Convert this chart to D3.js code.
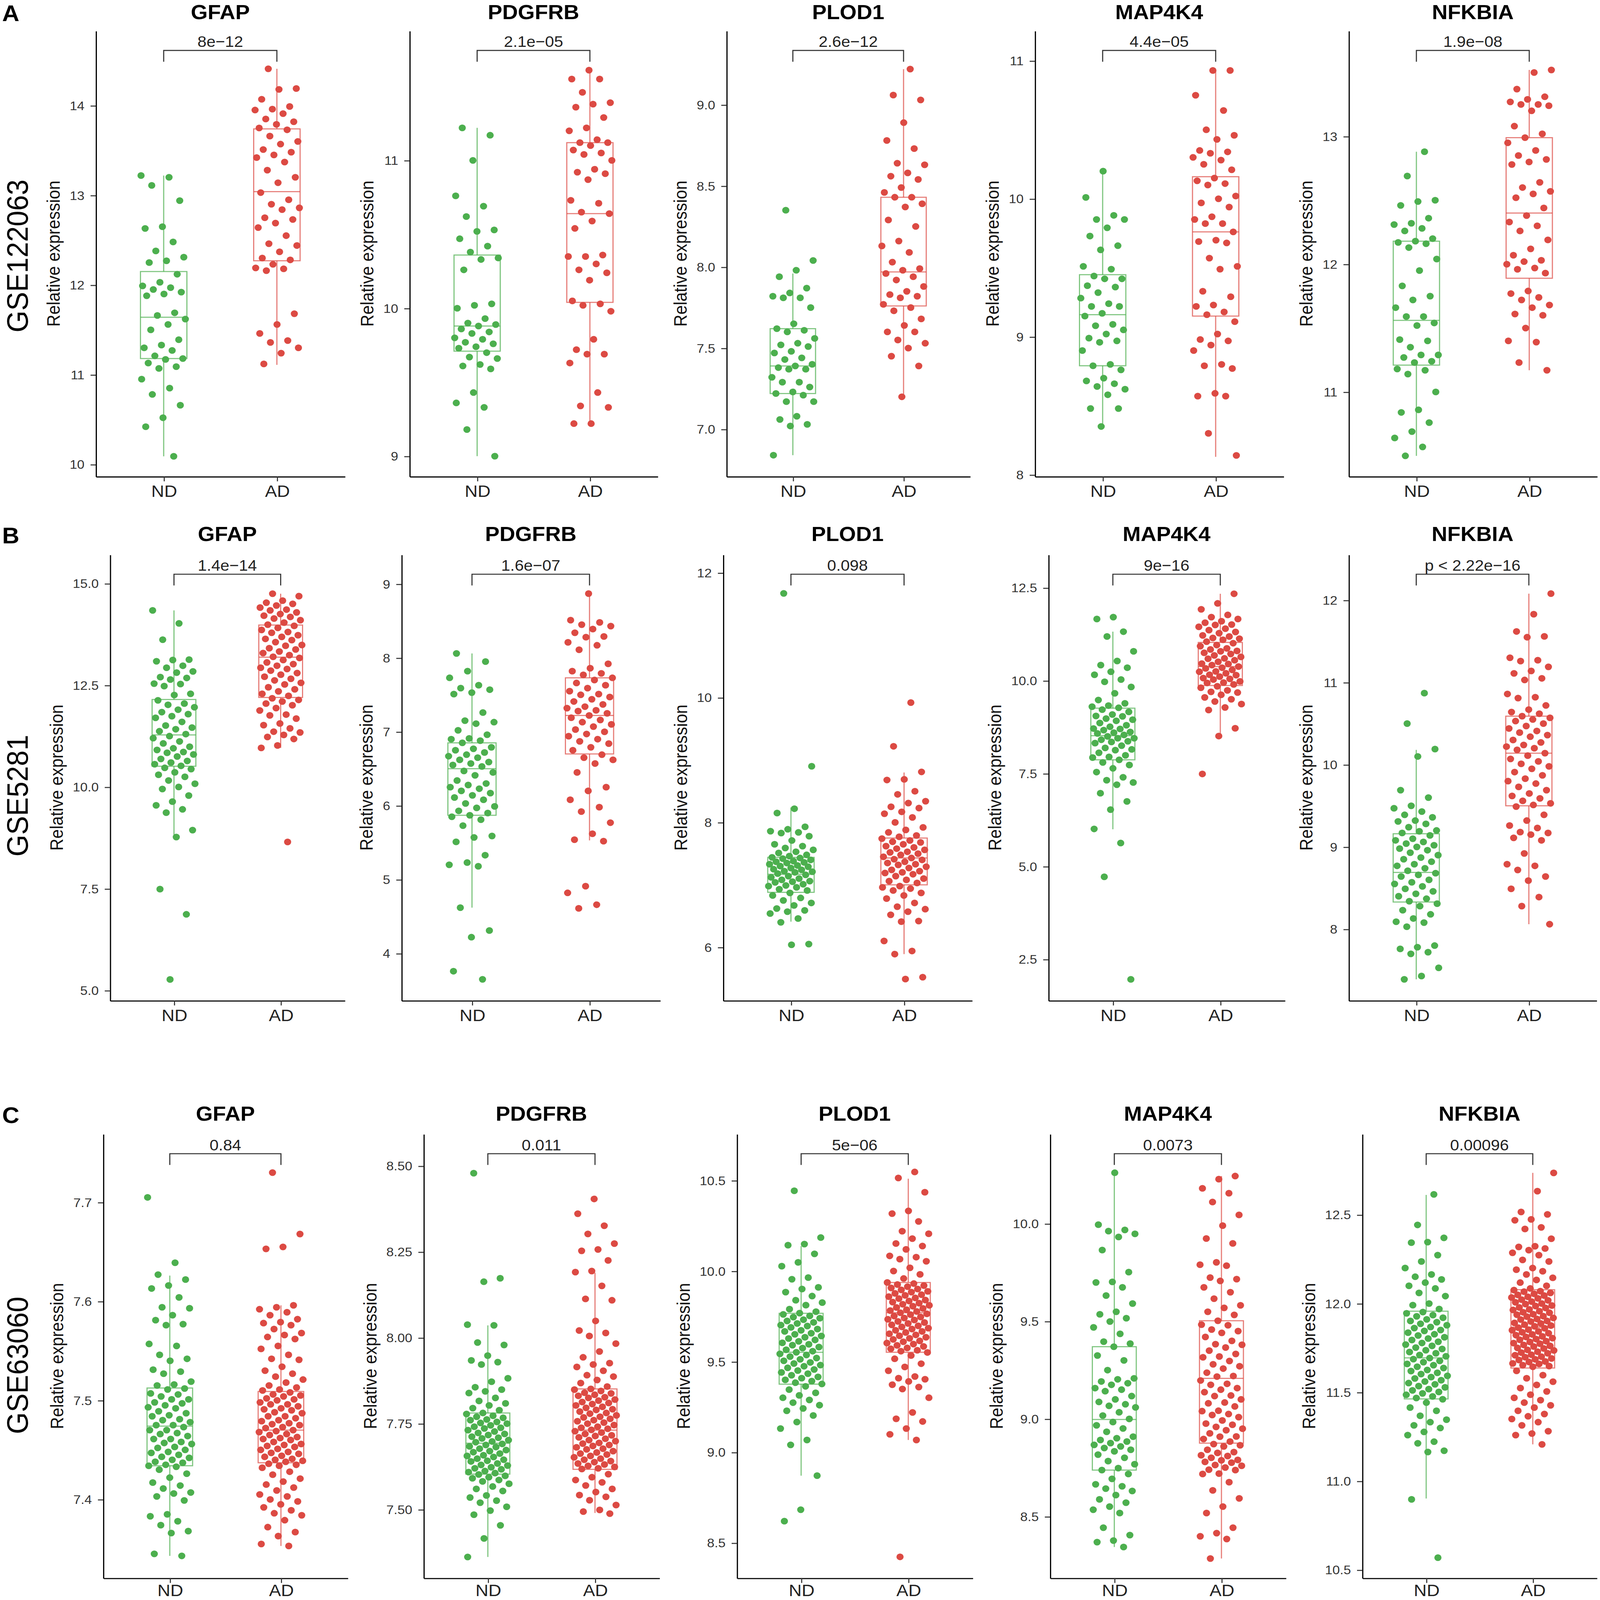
<!DOCTYPE html>
<html>
<head>
<meta charset="utf-8">
<script src="https://cdn.jsdelivr.net/npm/d3@7"></script>
<style>
  html, body { margin: 0; padding: 0; background: #fff; overflow: hidden; }
  svg { display: block; }
</style>
</head>
<body>
<svg id="chart"></svg>
<script>
// ---- data ----
const genes = ["GFAP", "PDGFRB", "PLOD1", "MAP4K4", "NFKBIA"];
const datasets = ["GSE122063", "GSE5281", "GSE63060"];
const panelLetters = ["A", "B", "C"];
const groups = ["ND", "AD"];

const pLabels = [
  ["8e\u221212", "2.1e\u221205", "2.6e\u221212", "4.4e\u221205", "1.9e\u221208"],
  ["1.4e\u221214", "1.6e\u221207", "0.098", "9e\u221216", "p < 2.22e\u221216"],
  ["0.84", "0.011", "5e\u221206", "0.0073", "0.00096"]
];

// y tick labels per row, per gene
const yTicksA = [["10","11","12","13","14"], ["9","10","11"], ["7.0","7.5","8.0","8.5","9.0"], ["8","9","10","11"], ["11","12","13"]];
const yTicksB = [["5.0","7.5","10.0","12.5","15.0"], ["4","5","6","7","8","9"], ["6","8","10","12"], ["2.5","5.0","7.5","10.0","12.5"], ["8","9","10","11","12"]];
const yTicksC = [["7.4","7.5","7.6","7.7"], ["7.50","7.75","8.00","8.25","8.50"], ["8.5","9.0","9.5","10.0","10.5"], ["8.5","9.0","9.5","10.0"], ["10.5","11.0","11.5","12.0","12.5"]];

// box stats [lower whisker, q1, median, q3, upper whisker] as [ND, AD]
const boxA = [
  [[10.09, 11.18, 11.64, 12.15, 13.22], [11.11, 12.27, 13.04, 13.74, 14.41]],
  [[9.00, 9.71, 9.88, 10.36, 11.22], [9.22, 10.04, 10.64, 11.12, 11.61]],
  [[6.84, 7.22, 7.39, 7.62, 7.96], [7.20, 7.76, 7.97, 8.43, 9.22]],
  [[8.35, 8.79, 9.16, 9.45, 10.19], [8.13, 9.15, 9.76, 10.16, 10.93]],
  [[10.50, 11.21, 11.56, 12.18, 12.88], [11.17, 11.89, 12.40, 12.99, 13.52]]
];
const boxB = [
  [[8.81, 10.51, 11.28, 12.15, 14.34], [10.96, 12.20, 13.19, 13.98, 14.75]],
  [[4.62, 5.87, 6.50, 6.85, 8.06], [5.53, 6.70, 7.22, 7.73, 8.87]],
  [[6.41, 6.88, 7.17, 7.44, 8.24], [5.89, 7.00, 7.43, 7.75, 8.80]],
  [[6.00, 7.87, 8.52, 9.26, 11.32], [8.51, 9.87, 10.38, 11.03, 12.34]],
  [[7.39, 8.33, 8.69, 9.16, 10.18], [8.06, 9.50, 10.14, 10.59, 12.08]]
];
const boxC = [
  [[7.343, 7.434, 7.474, 7.5125, 7.626], [7.353, 7.437, 7.470, 7.509, 7.596]],
  [[7.362, 7.603, 7.693, 7.781, 8.036], [7.490, 7.617, 7.731, 7.851, 8.189]],
  [[8.871, 9.376, 9.552, 9.767, 10.138], [9.068, 9.552, 9.77, 9.937, 10.51]],
  [[8.344, 8.738, 8.997, 9.370, 10.261], [8.285, 8.876, 9.208, 9.503, 10.244]],
  [[10.902, 11.463, 11.694, 11.957, 12.612], [11.207, 11.637, 11.867, 12.078, 12.736]]
];

// per-sample relative expression (GSE122063)
const a_GFAP_ND = [13.22,13.20,13.11,12.94,12.65,12.63,12.48,12.38,12.31,12.27,12.25,12.12,12.03,11.99,11.97,11.95,11.92,11.90,11.88,11.69,11.66,11.62,11.56,11.50,11.39,11.33,11.30,11.27,11.21,11.18,11.17,11.13,11.09,11.07,10.95,10.85,10.78,10.66,10.52,10.42,10.09];
const a_GFAP_AD = [14.41,14.19,14.18,14.07,13.99,13.96,13.95,13.91,13.85,13.82,13.79,13.75,13.73,13.66,13.60,13.57,13.51,13.48,13.45,13.42,13.37,13.28,13.20,13.14,13.03,12.95,12.90,12.86,12.84,12.75,12.73,12.69,12.64,12.55,12.46,12.44,12.37,12.30,12.28,12.23,12.19,12.18,12.16,11.68,11.56,11.46,11.38,11.36,11.30,11.24,11.12];
const a_PDGFRB_ND = [11.22,11.17,11.00,10.76,10.69,10.62,10.53,10.52,10.47,10.42,10.38,10.34,10.33,10.26,10.03,10.02,10.00,9.93,9.90,9.89,9.88,9.86,9.84,9.83,9.80,9.79,9.77,9.76,9.74,9.73,9.70,9.67,9.66,9.62,9.61,9.59,9.43,9.36,9.33,9.18,9.00];
const a_PDGFRB_AD = [11.61,11.55,11.55,11.46,11.39,11.38,11.36,11.29,11.22,11.20,11.14,11.12,11.12,11.10,11.07,11.05,11.04,11.00,10.94,10.92,10.91,10.87,10.73,10.71,10.65,10.64,10.59,10.54,10.36,10.35,10.35,10.30,10.26,10.24,10.19,10.05,10.03,10.02,9.98,9.79,9.72,9.69,9.69,9.63,9.43,9.34,9.33,9.22,9.22];
const a_PLOD1_ND = [8.35,8.04,7.98,7.94,7.87,7.84,7.82,7.81,7.81,7.75,7.65,7.62,7.61,7.60,7.56,7.53,7.52,7.51,7.48,7.47,7.44,7.43,7.40,7.39,7.38,7.37,7.37,7.32,7.29,7.29,7.26,7.23,7.22,7.21,7.17,7.17,7.08,7.06,7.03,7.02,6.84];
const a_PLOD1_AD = [9.22,9.06,9.03,8.89,8.78,8.73,8.64,8.63,8.58,8.56,8.54,8.49,8.46,8.43,8.43,8.39,8.37,8.29,8.25,8.16,8.13,8.09,8.03,7.99,7.98,7.96,7.94,7.92,7.88,7.85,7.83,7.82,7.81,7.77,7.75,7.73,7.68,7.64,7.60,7.60,7.55,7.53,7.50,7.45,7.39,7.20];
const a_MAP4K4_ND = [10.20,10.01,9.88,9.85,9.85,9.79,9.73,9.66,9.63,9.51,9.49,9.44,9.42,9.42,9.37,9.36,9.32,9.28,9.24,9.22,9.22,9.17,9.15,9.09,9.08,9.05,9.02,8.99,8.97,8.96,8.90,8.80,8.79,8.76,8.70,8.68,8.66,8.64,8.62,8.58,8.48,8.48,8.35];
const a_MAP4K4_AD = [10.93,10.93,10.75,10.64,10.50,10.46,10.43,10.35,10.34,10.33,10.30,10.28,10.25,10.21,10.15,10.13,10.11,10.10,10.02,10.00,9.97,9.94,9.87,9.85,9.82,9.82,9.76,9.70,9.69,9.68,9.57,9.51,9.49,9.33,9.29,9.23,9.22,9.18,9.16,9.11,9.02,8.98,8.97,8.94,8.90,8.80,8.79,8.77,8.59,8.57,8.57,8.30,8.14];
const a_NFKBIA_ND = [12.88,12.69,12.50,12.49,12.46,12.36,12.32,12.31,12.28,12.26,12.20,12.18,12.17,12.16,12.13,12.04,11.95,11.83,11.75,11.72,11.66,11.59,11.59,11.54,11.52,11.41,11.40,11.35,11.29,11.29,11.27,11.24,11.23,11.18,11.17,11.14,11.00,10.86,10.84,10.76,10.69,10.64,10.57,10.50];
const a_NFKBIA_AD = [13.52,13.50,13.37,13.31,13.29,13.27,13.25,13.25,13.24,13.20,13.08,13.02,12.99,12.95,12.89,12.85,12.82,12.80,12.78,12.64,12.60,12.57,12.55,12.52,12.44,12.38,12.33,12.30,12.26,12.19,12.12,12.07,12.03,12.02,12.00,11.97,11.96,11.93,11.79,11.77,11.74,11.72,11.68,11.66,11.61,11.60,11.50,11.40,11.39,11.23,11.17];

// GSE5281
const b_GFAP_ND = [14.34,14.02,13.62,13.13,13.12,13.09,12.98,12.93,12.84,12.81,12.70,12.68,12.64,12.54,12.53,12.48,12.29,12.26,12.13,12.05,12.02,11.96,11.90,11.84,11.79,11.74,11.70,11.60,11.51,11.46,11.42,11.37,11.30,11.25,11.20,11.12,11.07,10.99,10.95,10.91,10.86,10.84,10.80,10.75,10.69,10.64,10.60,10.56,10.52,10.47,10.44,10.36,10.30,10.25,10.16,10.08,10.00,9.95,9.79,9.64,9.55,9.45,9.37,8.94,8.77,7.49,6.87,5.27];
const b_GFAP_AD = [14.75,14.69,14.58,14.53,14.50,14.46,14.41,14.36,14.34,14.29,14.25,14.21,14.18,14.14,14.10,14.04,13.99,13.96,13.91,13.86,13.81,13.79,13.73,13.69,13.64,13.61,13.56,13.49,13.47,13.41,13.38,13.33,13.29,13.24,13.20,13.17,13.12,13.06,13.02,12.98,12.93,12.90,12.86,12.80,12.76,12.71,12.66,12.62,12.56,12.52,12.45,12.40,12.35,12.29,12.24,12.18,12.14,12.10,12.05,12.01,11.94,11.88,11.78,11.76,11.68,11.56,11.52,11.44,11.36,11.34,11.28,11.23,11.18,11.02,10.96,8.65];
const b_PDGFRB_ND = [8.06,7.95,7.82,7.73,7.63,7.59,7.57,7.53,7.51,7.26,7.15,7.13,7.11,7.02,6.96,6.91,6.90,6.88,6.85,6.79,6.77,6.75,6.72,6.69,6.67,6.65,6.62,6.59,6.57,6.55,6.53,6.47,6.45,6.41,6.34,6.30,6.28,6.25,6.23,6.20,6.17,6.14,6.11,6.08,6.03,5.99,5.97,5.93,5.90,5.87,5.85,5.81,5.73,5.59,5.57,5.51,5.33,5.23,5.20,5.18,4.62,4.31,4.22,3.76,3.65];
const b_PDGFRB_AD = [8.87,8.51,8.48,8.45,8.43,8.39,8.34,8.29,8.28,8.21,8.17,8.11,7.92,7.86,7.82,7.79,7.77,7.73,7.70,7.66,7.63,7.59,7.55,7.51,7.50,7.47,7.44,7.41,7.37,7.34,7.32,7.29,7.28,7.25,7.22,7.19,7.16,7.13,7.10,7.07,7.03,7.00,6.97,6.94,6.90,6.87,6.84,6.79,6.75,6.69,6.65,6.62,6.57,6.45,6.25,6.20,6.08,5.98,5.92,5.77,5.62,5.54,5.52,4.91,4.82,4.66,4.61];
const b_PLOD1_ND = [11.67,8.90,8.22,8.15,7.93,7.89,7.86,7.84,7.83,7.78,7.71,7.65,7.62,7.59,7.56,7.53,7.51,7.48,7.46,7.44,7.43,7.42,7.40,7.38,7.37,7.36,7.35,7.33,7.31,7.30,7.29,7.27,7.25,7.24,7.22,7.21,7.20,7.18,7.16,7.14,7.12,7.10,7.08,7.06,7.05,7.04,7.01,6.99,6.98,6.96,6.93,6.91,6.87,6.83,6.79,6.75,6.71,6.67,6.62,6.59,6.57,6.54,6.46,6.40,6.05,6.04];
const b_PLOD1_AD = [9.92,9.22,8.81,8.69,8.68,8.50,8.45,8.34,8.31,8.25,8.23,8.17,8.14,8.08,8.00,7.92,7.88,7.84,7.79,7.77,7.74,7.71,7.69,7.68,7.65,7.62,7.60,7.58,7.56,7.53,7.52,7.50,7.48,7.45,7.43,7.41,7.40,7.37,7.35,7.33,7.32,7.29,7.27,7.24,7.22,7.20,7.19,7.17,7.14,7.10,7.08,7.06,7.03,6.98,6.96,6.94,6.91,6.87,6.83,6.78,6.71,6.65,6.61,6.57,6.52,6.42,6.41,6.10,5.94,5.89,5.52,5.49];
const b_MAP4K4_ND = [11.71,11.66,11.32,11.19,10.79,10.53,10.42,10.35,10.24,10.16,10.03,9.97,9.83,9.66,9.48,9.39,9.33,9.30,9.27,9.22,9.16,9.09,9.05,9.04,8.98,8.95,8.92,8.86,8.80,8.76,8.71,8.70,8.67,8.62,8.60,8.58,8.54,8.50,8.45,8.45,8.41,8.37,8.35,8.32,8.25,8.19,8.15,8.13,8.06,7.99,7.95,7.93,7.87,7.80,7.73,7.64,7.54,7.40,7.32,7.26,7.20,6.97,6.75,6.53,6.01,5.63,4.72,1.96];
const b_MAP4K4_AD = [12.34,12.08,11.92,11.77,11.71,11.66,11.60,11.56,11.51,11.50,11.45,11.40,11.36,11.31,11.28,11.22,11.19,11.15,11.13,11.10,11.05,11.01,10.96,10.93,10.87,10.84,10.80,10.79,10.75,10.72,10.68,10.64,10.60,10.59,10.55,10.51,10.46,10.45,10.42,10.38,10.35,10.33,10.29,10.25,10.24,10.20,10.16,10.15,10.11,10.07,10.05,10.03,9.98,9.95,9.94,9.90,9.85,9.81,9.74,9.70,9.68,9.62,9.55,9.50,9.44,9.37,9.28,9.21,8.72,8.51,7.49];
const b_NFKBIA_ND = [10.87,10.50,10.19,10.10,9.69,9.60,9.50,9.47,9.43,9.39,9.36,9.32,9.31,9.28,9.24,9.20,9.19,9.17,9.14,9.10,9.08,9.06,9.04,9.02,9.00,8.98,8.96,8.93,8.90,8.87,8.85,8.82,8.79,8.77,8.74,8.71,8.68,8.66,8.64,8.60,8.57,8.55,8.52,8.49,8.46,8.43,8.40,8.37,8.34,8.31,8.28,8.23,8.18,8.13,8.09,8.08,8.03,7.80,7.78,7.76,7.72,7.70,7.53,7.43,7.39];
const b_NFKBIA_AD = [12.08,11.83,11.62,11.56,11.55,11.30,11.27,11.26,11.19,11.14,11.11,11.05,11.03,10.86,10.82,10.81,10.72,10.67,10.64,10.62,10.59,10.57,10.55,10.53,10.50,10.47,10.44,10.41,10.39,10.36,10.34,10.30,10.27,10.24,10.22,10.20,10.18,10.14,10.11,10.07,10.04,10.01,9.98,9.95,9.91,9.87,9.83,9.80,9.77,9.73,9.69,9.65,9.62,9.59,9.56,9.53,9.51,9.49,9.39,9.32,9.26,9.23,9.18,9.17,9.15,9.11,9.08,8.92,8.79,8.77,8.72,8.64,8.59,8.49,8.39,8.28,8.06];

// GSE63060
const c_GFAP_ND = [7.705,7.639,7.627,7.622,7.616,7.613,7.604,7.594,7.593,7.586,7.581,7.577,7.576,7.557,7.555,7.546,7.542,7.540,7.531,7.529,7.527,7.519,7.516,7.515,7.512,7.511,7.507,7.506,7.504,7.501,7.501,7.498,7.497,7.495,7.493,7.492,7.489,7.487,7.485,7.484,7.481,7.480,7.478,7.475,7.475,7.473,7.470,7.470,7.467,7.466,7.464,7.461,7.461,7.458,7.457,7.456,7.453,7.452,7.450,7.448,7.447,7.445,7.443,7.442,7.440,7.438,7.437,7.435,7.434,7.433,7.430,7.426,7.422,7.417,7.414,7.411,7.407,7.406,7.403,7.399,7.385,7.383,7.378,7.374,7.368,7.366,7.345,7.343];
const c_GFAP_AD = [7.730,7.668,7.655,7.653,7.596,7.594,7.592,7.589,7.586,7.582,7.579,7.578,7.576,7.572,7.568,7.566,7.564,7.562,7.555,7.552,7.546,7.542,7.541,7.534,7.530,7.527,7.524,7.521,7.518,7.515,7.513,7.511,7.510,7.508,7.506,7.505,7.504,7.502,7.501,7.500,7.498,7.496,7.496,7.494,7.492,7.491,7.490,7.488,7.487,7.484,7.484,7.482,7.480,7.479,7.477,7.476,7.475,7.473,7.472,7.470,7.469,7.468,7.466,7.465,7.463,7.462,7.461,7.460,7.458,7.456,7.455,7.454,7.453,7.451,7.450,7.448,7.447,7.446,7.444,7.443,7.441,7.440,7.439,7.438,7.436,7.435,7.434,7.432,7.428,7.425,7.421,7.418,7.415,7.412,7.409,7.405,7.403,7.400,7.398,7.395,7.392,7.389,7.386,7.384,7.379,7.372,7.367,7.363,7.355,7.353];
const c_PDGFRB_ND = [8.479,8.173,8.163,8.038,8.036,7.986,7.979,7.948,7.934,7.929,7.922,7.882,7.872,7.856,7.849,7.844,7.839,7.825,7.816,7.809,7.803,7.795,7.789,7.781,7.778,7.773,7.770,7.767,7.762,7.760,7.755,7.752,7.750,7.745,7.741,7.738,7.736,7.731,7.727,7.723,7.720,7.717,7.712,7.709,7.707,7.702,7.698,7.696,7.691,7.688,7.684,7.682,7.677,7.673,7.670,7.667,7.663,7.658,7.656,7.653,7.648,7.645,7.642,7.640,7.634,7.630,7.628,7.623,7.620,7.617,7.612,7.609,7.606,7.602,7.598,7.594,7.591,7.586,7.582,7.575,7.567,7.560,7.554,7.541,7.535,7.526,7.520,7.508,7.497,7.485,7.454,7.416,7.362];
const c_PDGFRB_AD = [8.404,8.361,8.326,8.302,8.274,8.257,8.253,8.225,8.194,8.191,8.151,8.113,8.109,8.049,8.021,8.014,8.005,7.983,7.960,7.943,7.926,7.922,7.915,7.904,7.891,7.887,7.877,7.868,7.858,7.851,7.849,7.845,7.840,7.838,7.834,7.831,7.827,7.825,7.820,7.817,7.813,7.810,7.807,7.803,7.799,7.796,7.792,7.790,7.785,7.781,7.779,7.774,7.770,7.768,7.764,7.760,7.757,7.753,7.750,7.746,7.741,7.738,7.735,7.732,7.728,7.724,7.720,7.716,7.714,7.710,7.706,7.702,7.699,7.694,7.692,7.688,7.685,7.681,7.677,7.675,7.670,7.666,7.663,7.660,7.656,7.652,7.648,7.645,7.641,7.638,7.634,7.631,7.627,7.624,7.620,7.618,7.603,7.594,7.586,7.579,7.570,7.560,7.551,7.542,7.537,7.527,7.513,7.499,7.494,7.488];
const c_PLOD1_ND = [10.443,10.185,10.149,10.143,10.095,10.048,10.027,9.964,9.955,9.910,9.901,9.884,9.862,9.839,9.826,9.812,9.790,9.776,9.768,9.761,9.753,9.746,9.740,9.732,9.725,9.717,9.711,9.702,9.697,9.689,9.680,9.673,9.667,9.657,9.651,9.642,9.635,9.628,9.620,9.612,9.604,9.596,9.591,9.581,9.575,9.566,9.558,9.552,9.543,9.537,9.528,9.520,9.513,9.505,9.496,9.490,9.481,9.475,9.466,9.457,9.451,9.441,9.434,9.425,9.416,9.409,9.400,9.393,9.384,9.377,9.364,9.346,9.328,9.314,9.301,9.289,9.274,9.260,9.242,9.229,9.203,9.167,9.131,9.068,9.041,8.871,8.683,8.620];
const c_PLOD1_AD = [10.547,10.514,10.435,10.332,10.317,10.274,10.220,10.206,10.179,10.152,10.138,10.120,10.084,10.077,10.066,10.054,10.018,10.000,9.982,9.959,9.937,9.931,9.926,9.920,9.914,9.907,9.901,9.896,9.888,9.884,9.877,9.870,9.866,9.859,9.852,9.848,9.840,9.835,9.829,9.823,9.817,9.811,9.806,9.799,9.794,9.787,9.782,9.777,9.770,9.764,9.760,9.752,9.747,9.741,9.734,9.730,9.722,9.716,9.711,9.703,9.698,9.692,9.685,9.680,9.673,9.667,9.661,9.654,9.648,9.643,9.635,9.629,9.623,9.615,9.610,9.603,9.597,9.590,9.584,9.576,9.571,9.563,9.558,9.551,9.534,9.516,9.489,9.471,9.450,9.418,9.409,9.403,9.391,9.373,9.360,9.349,9.301,9.220,9.185,9.170,9.131,9.099,9.068,8.423];
const c_MAP4K4_ND = [10.261,9.995,9.968,9.962,9.948,9.932,9.865,9.752,9.702,9.699,9.674,9.632,9.591,9.549,9.536,9.516,9.499,9.469,9.436,9.396,9.386,9.370,9.325,9.300,9.250,9.208,9.203,9.192,9.183,9.175,9.158,9.150,9.142,9.117,9.100,9.087,9.075,9.067,9.059,9.034,9.017,9.000,8.984,8.967,8.951,8.934,8.909,8.901,8.892,8.884,8.876,8.867,8.859,8.851,8.842,8.834,8.817,8.801,8.784,8.768,8.748,8.738,8.718,8.693,8.665,8.655,8.643,8.631,8.610,8.588,8.571,8.551,8.535,8.518,8.443,8.405,8.377,8.369,8.344];
const c_MAP4K4_AD = [10.244,10.228,10.181,10.156,10.111,10.045,9.990,9.924,9.899,9.802,9.790,9.785,9.724,9.716,9.707,9.674,9.649,9.616,9.582,9.569,9.549,9.533,9.503,9.483,9.480,9.458,9.450,9.441,9.420,9.400,9.383,9.380,9.366,9.350,9.333,9.320,9.316,9.297,9.280,9.270,9.258,9.237,9.220,9.217,9.197,9.180,9.175,9.158,9.150,9.137,9.120,9.117,9.100,9.084,9.080,9.064,9.042,9.040,9.025,9.020,9.009,8.992,8.976,8.970,8.959,8.950,8.942,8.926,8.910,8.909,8.897,8.884,8.871,8.865,8.859,8.842,8.830,8.826,8.814,8.810,8.801,8.790,8.788,8.780,8.776,8.764,8.760,8.751,8.740,8.738,8.720,8.718,8.676,8.634,8.593,8.551,8.518,8.443,8.415,8.399,8.385,8.285];
const c_NFKBIA_ND = [12.615,12.443,12.370,12.346,12.343,12.273,12.237,12.200,12.164,12.151,12.136,12.118,12.100,12.085,12.060,12.042,12.000,11.991,11.969,11.952,11.945,11.935,11.928,11.920,11.911,11.902,11.895,11.886,11.878,11.868,11.862,11.851,11.846,11.836,11.827,11.820,11.810,11.803,11.795,11.785,11.778,11.769,11.762,11.752,11.744,11.737,11.727,11.720,11.710,11.703,11.693,11.687,11.677,11.670,11.660,11.653,11.644,11.637,11.626,11.620,11.610,11.603,11.593,11.586,11.578,11.568,11.561,11.552,11.545,11.535,11.528,11.518,11.511,11.502,11.494,11.486,11.477,11.468,11.461,11.442,11.414,11.396,11.368,11.346,11.332,11.314,11.299,11.277,11.259,11.222,11.213,11.171,11.164,10.897,10.569];
const c_NFKBIA_AD = [12.736,12.633,12.516,12.502,12.474,12.469,12.429,12.420,12.365,12.323,12.319,12.310,12.301,12.286,12.273,12.246,12.237,12.200,12.191,12.182,12.164,12.145,12.133,12.118,12.100,12.085,12.076,12.070,12.067,12.060,12.055,12.049,12.045,12.038,12.034,12.029,12.022,12.018,12.011,12.007,12.000,11.997,11.989,11.986,11.978,11.975,11.967,11.964,11.957,11.951,11.948,11.940,11.937,11.929,11.926,11.919,11.913,11.910,11.902,11.899,11.891,11.888,11.881,11.876,11.872,11.864,11.861,11.853,11.850,11.843,11.838,11.833,11.826,11.822,11.815,11.812,11.805,11.800,11.796,11.788,11.784,11.777,11.774,11.767,11.762,11.758,11.750,11.747,11.739,11.736,11.729,11.724,11.720,11.712,11.709,11.701,11.698,11.691,11.686,11.682,11.674,11.671,11.663,11.660,11.653,11.648,11.644,11.621,11.597,11.579,11.560,11.542,11.524,11.505,11.487,11.469,11.456,11.442,11.427,11.414,11.396,11.378,11.365,11.350,11.332,11.314,11.281,11.268,11.259,11.207];

// table built from the arrays above: rows -> genes -> [ND, AD]
const expr = [
  [[a_GFAP_ND, a_GFAP_AD], [a_PDGFRB_ND, a_PDGFRB_AD], [a_PLOD1_ND, a_PLOD1_AD], [a_MAP4K4_ND, a_MAP4K4_AD], [a_NFKBIA_ND, a_NFKBIA_AD]],
  [[b_GFAP_ND, b_GFAP_AD], [b_PDGFRB_ND, b_PDGFRB_AD], [b_PLOD1_ND, b_PLOD1_AD], [b_MAP4K4_ND, b_MAP4K4_AD], [b_NFKBIA_ND, b_NFKBIA_AD]],
  [[c_GFAP_ND, c_GFAP_AD], [c_PDGFRB_ND, c_PDGFRB_AD], [c_PLOD1_ND, c_PLOD1_AD], [c_MAP4K4_ND, c_MAP4K4_AD], [c_NFKBIA_ND, c_NFKBIA_AD]]
];
const yTicks = [yTicksA, yTicksB, yTicksC];
const boxStats = [boxA, boxB, boxC];

// ---- layout (viewBox units, figure is 1477 x 1567) ----
const W = 1477, H = 1567;
const rows = [
  { top: 30.2, bottom: 466.6, left: [88.4, 378.0, 670.6, 955.3, 1245.0], width: [229.9, 229.0, 224.8, 229.5, 229.2],
    ydom: [[9.866, 14.833], [8.863, 11.876], [6.709, 9.456], [7.988, 11.217], [10.339, 13.826]] },
  { top: 543.2, bottom: 979.9, left: [101.5, 370.6, 667.5, 967.8, 1245.0], width: [216.7, 238.7, 229.7, 218.2, 228.7],
    ydom: [[4.752, 15.710], [3.363, 9.397], [5.146, 12.291], [1.390, 13.393], [7.132, 12.554]] },
  { top: 1110.7, bottom: 1545.5, left: [95.2, 391.0, 680.2, 969.3, 1257.5], width: [225.7, 217.6, 217.6, 217.6, 216.5],
    ydom: [[7.3206, 7.7689], [7.3006, 8.5927], [8.306, 10.756], [8.185, 10.459], [10.454, 12.9545]] }
];

const FONT = "'Liberation Sans', Arial, Helvetica, sans-serif";
const colors = { ND: "#4caf4e", AD: "#dc4a43" };

// fill the whole window, whatever its css size is
const vw = window.innerWidth || document.documentElement.clientWidth;
const vh = window.innerHeight || document.documentElement.clientHeight;

const svg = d3.select("#chart")
  .attr("width", vw)
  .attr("height", vh)
  .attr("viewBox", `0 0 ${W} ${H}`)
  .attr("preserveAspectRatio", "none")
  .style("font-family", FONT);

svg.append("rect").attr("width", W).attr("height", H).attr("fill", "#fff");

rows.forEach((row, r) => {
  // panel letter and dataset name (kept just inside the edges)
  svg.append("text")
    .attr("x", 2).attr("y", Math.max(row.top - 11, 20.6))
    .attr("font-size", 22).attr("font-weight", "bold")
    .text(panelLetters[r]);

  svg.append("text")
    .attr("transform", `translate(25.6,${row.bottom - 141}) rotate(-90)`)
    .attr("font-size", 27.5)
    .attr("text-anchor", "start")
    .text(datasets[r]);

  genes.forEach((gene, k) => {
    const g = svg.append("g").attr("transform", `translate(${row.left[k]},0)`);
    const w = row.width[k];

    const x = d3.scalePoint().domain(groups).range([0, w]).padding(0.6);
    const y = d3.scaleLinear().domain(row.ydom[k]).range([row.bottom, row.top]);
    const step = x.step();
    const boxW = 0.41 * step;

    // title
    g.append("text")
      .attr("x", w / 2).attr("y", Math.max(row.top - 13.2, 18.8))
      .attr("text-anchor", "middle")
      .attr("font-size", 20).attr("font-weight", "bold")
      .text(gene);

    // y axis
    const ticks = yTicks[r][k];
    const yAxis = g.append("g")
      .call(d3.axisLeft(y).tickValues(ticks.map(Number)).tickFormat((d, i) => ticks[i])
        .tickSize(4.8).tickSizeOuter(0).tickPadding(5.6));
    yAxis.attr("font-family", FONT).attr("font-size", 12.3);
    yAxis.select(".domain").attr("stroke", "#000").attr("stroke-width", 1.1);
    yAxis.selectAll(".tick line").attr("stroke", "#333").attr("stroke-width", 1);
    yAxis.selectAll(".tick text").attr("fill", "#333");

    // x axis (bottom row labels nudged up so they stay inside the page)
    const xAxis = g.append("g")
      .attr("transform", `translate(0,${row.bottom})`)
      .call(d3.axisBottom(x).tickSize(4.8).tickSizeOuter(0).tickPadding(r === 2 ? 1.2 : 3.5));
    xAxis.attr("font-family", FONT).attr("font-size", 16.5);
    xAxis.select(".domain").attr("stroke", "#000").attr("stroke-width", 1.1);
    xAxis.selectAll(".tick line").attr("stroke", "#333").attr("stroke-width", 1);
    xAxis.selectAll(".tick text").attr("fill", "#222");

    // y label sits just left of the widest tick label (like ggplot)
    const tickLeft = yAxis.node().getBBox().x;
    g.append("text")
      .attr("transform", `translate(${tickLeft - 9.2},${(row.top + row.bottom) / 2}) rotate(-90)`)
      .attr("text-anchor", "middle")
      .attr("font-size", 16.4)
      .attr("fill", "#111")
      .text("Relative expression");

    // boxes
    groups.forEach((grp, gi) => {
      const [lo, q1, med, q3, hi] = boxStats[r][k][gi];
      const cx = x(grp);
      const bg = g.append("g")
        .attr("stroke", colors[grp]).attr("stroke-opacity", 0.72)
        .attr("stroke-width", 1.05).attr("fill", "none");
      bg.append("line").attr("x1", cx).attr("x2", cx).attr("y1", y(hi)).attr("y2", y(q3));
      bg.append("line").attr("x1", cx).attr("x2", cx).attr("y1", y(q1)).attr("y2", y(lo));
      bg.append("rect")
        .attr("x", cx - boxW / 2).attr("width", boxW)
        .attr("y", y(q3)).attr("height", y(q1) - y(q3))
        .attr("fill", "#fff");
      bg.append("line").attr("x1", cx - boxW / 2).attr("x2", cx + boxW / 2)
        .attr("y1", y(med)).attr("y2", y(med));
    });

    // jittered points (deterministic spread inside the box width)
    groups.forEach((grp, gi) => {
      const vals = expr[r][k][gi];
      g.append("g").selectAll("circle")
        .data(vals)
        .join("circle")
        .attr("cx", (d, i) => x(grp) + (((i * 0.6180339 + 0.31 * gi + 0.17 * k) % 1) * 2 - 1) * 0.2 * step)
        .attr("cy", d => y(d))
        .attr("r", 3.3)
        .attr("fill", colors[grp]);
    });

    // comparison bracket and p value
    const by = row.top + 19.2;
    g.append("path")
      .attr("d", `M${x("ND")},${by + 11}V${by}H${x("AD")}V${by + 11}`)
      .attr("fill", "none").attr("stroke", "#333").attr("stroke-width", 1);
    g.append("text")
      .attr("x", (x("ND") + x("AD")) / 2).attr("y", row.top + 15.9)
      .attr("text-anchor", "middle")
      .attr("font-size", 15)
      .attr("fill", "#222")
      .text(pLabels[r][k]);
  });
});
</script>
</body>
</html>
